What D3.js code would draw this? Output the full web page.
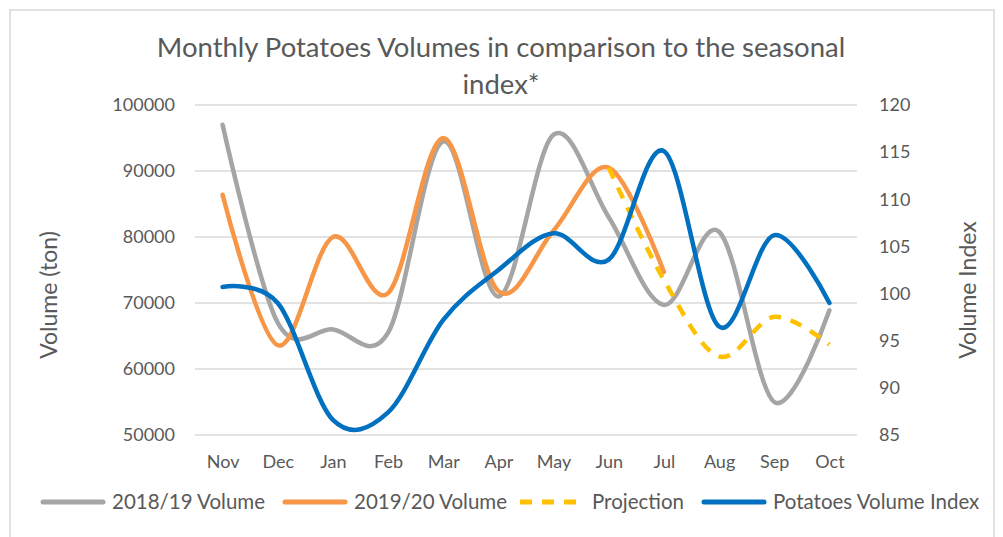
<!DOCTYPE html>
<html>
<head>
<title>Monthly Potatoes Volumes</title>
<script src="https://d3js.org/d3.v7.min.js"></script>
<style>
  body { margin: 0; background: #fff; }
  text { font-family: Lato, "Open Sans", sans-serif; fill: #595959; }
</style>
</head>
<body>
<div id="chart"></div>
<script>
// data
var months = ["Nov", "Dec", "Jan", "Feb", "Mar", "Apr", "May", "Jun", "Jul", "Aug", "Sep", "Oct"];
var vol1819 = [97000, 67000, 66000, 65500, 94500, 71000, 95500, 83000, 69700, 80800, 55000, 68900];
var vol1920 = [86400, 63600, 80000, 71500, 95000, 71800, 81000, 90500, 74700, null, null, null];
var projection = [null, null, null, null, null, null, null, 90500, 73500, 61900, 67900, 63700];
var volIndex = [100.7, 99, 86.6, 87.4, 97.2, 102.5, 106.4, 103.6, 115.1, 96.5, 106.2, 99];
var leftTicks = [50000, 60000, 70000, 80000, 90000, 100000];
var rightTicks = [85, 90, 95, 100, 105, 110, 115, 120];

var width = 1003, height = 537;
var svg = d3.select("#chart").append("svg")
    .attr("width", width)
    .attr("height", height);

// outer frame
svg.append("rect")
    .attr("x", 10).attr("y", 10)
    .attr("width", 984).attr("height", 545)
    .attr("fill", "#fff")
    .attr("stroke", "#d9d9d9")
    .attr("stroke-width", 1.5);

var x = d3.scalePoint().domain(months).range([195, 857]).padding(0.5);
var yL = d3.scaleLinear().domain([50000, 100000]).range([435, 105]);
var yR = d3.scaleLinear().domain([85, 120]).range([435, 105]);

// gridlines
svg.append("g").selectAll("line")
    .data(leftTicks)
    .enter().append("line")
    .attr("x1", 195).attr("x2", 857)
    .attr("y1", function(d) { return yL(d); })
    .attr("y2", function(d) { return yL(d); })
    .attr("stroke", "#d9d9d9")
    .attr("stroke-width", 1.5);

// left axis
var axL = svg.append("g")
    .attr("transform", "translate(195,0)")
    .call(d3.axisLeft(yL).tickValues(leftTicks).tickSize(0).tickPadding(20).tickFormat(d3.format("d")));
axL.select(".domain").remove();
axL.selectAll("text").style("font-size", "18px").attr("fill", "#595959");

// right axis
var axR = svg.append("g")
    .attr("transform", "translate(857,0)")
    .call(d3.axisRight(yR).tickValues(rightTicks).tickSize(0).tickPadding(22));
axR.select(".domain").remove();
axR.selectAll("text").style("font-size", "18px").attr("fill", "#595959");

// x axis labels
var axB = svg.append("g")
    .attr("transform", "translate(0,435)")
    .call(d3.axisBottom(x).tickSize(0).tickPadding(20));
axB.select(".domain").remove();
axB.selectAll("text").style("font-size", "18px").attr("fill", "#595959");

// titles
svg.append("text")
    .attr("x", 501).attr("y", 57)
    .attr("text-anchor", "middle")
    .style("font-size", "27.5px")
    .text("Monthly Potatoes Volumes in comparison to the seasonal");
svg.append("text")
    .attr("x", 501).attr("y", 94)
    .attr("text-anchor", "middle")
    .style("font-size", "27.5px")
    .text("index*");

svg.append("text")
    .attr("transform", "translate(57,295) rotate(-90)")
    .attr("text-anchor", "middle")
    .style("font-size", "23px")
    .text("Volume (ton)");
svg.append("text")
    .attr("transform", "translate(976,290) rotate(-90)")
    .attr("text-anchor", "middle")
    .style("font-size", "23px")
    .text("Volume Index");

// lines
function makeLine(scale) {
  return d3.line()
    .defined(function(d) { return d != null; })
    .x(function(d, i) { return x(months[i]); })
    .y(function(d) { return scale(d); })
    .curve(d3.curveCatmullRom.alpha(0));
}

var series = [
  { name: "2018/19 Volume", values: vol1819, scale: yL, color: "#a5a5a5", dash: null },
  { name: "2019/20 Volume", values: vol1920, scale: yL, color: "#f79646", dash: null },
  { name: "Projection", values: projection, scale: yL, color: "#ffc000", dash: "12,10" },
  { name: "Potatoes Volume Index", values: volIndex, scale: yR, color: "#0070c0", dash: null }
];

series.forEach(function(s) {
  svg.append("path")
    .datum(s.values)
    .attr("d", makeLine(s.scale))
    .attr("fill", "none")
    .attr("stroke", s.color)
    .attr("stroke-width", 4.5)
    .attr("stroke-linecap", s.dash ? "butt" : "round")
    .attr("stroke-dasharray", s.dash);
});

// legend
var legendX = [40, 282, 520, 701];
var leg = svg.append("g").selectAll("g")
    .data(series)
    .enter().append("g")
    .attr("transform", function(d, i) { return "translate(" + legendX[i] + ",502)"; });
leg.append("line")
    .attr("x1", function(d) { return d.dash ? 0 : 3; })
    .attr("x2", function(d) { return d.dash ? 65 : 63; })
    .attr("stroke", function(d) { return d.color; })
    .attr("stroke-width", 5)
    .attr("stroke-linecap", function(d) { return d.dash ? "butt" : "round"; })
    .attr("stroke-dasharray", function(d) { return d.dash ? "12,10" : null; });
leg.append("text")
    .attr("x", 72).attr("y", 7)
    .style("font-size", "20.5px")
    .text(function(d) { return d.name; });
</script>
</body>
</html>
